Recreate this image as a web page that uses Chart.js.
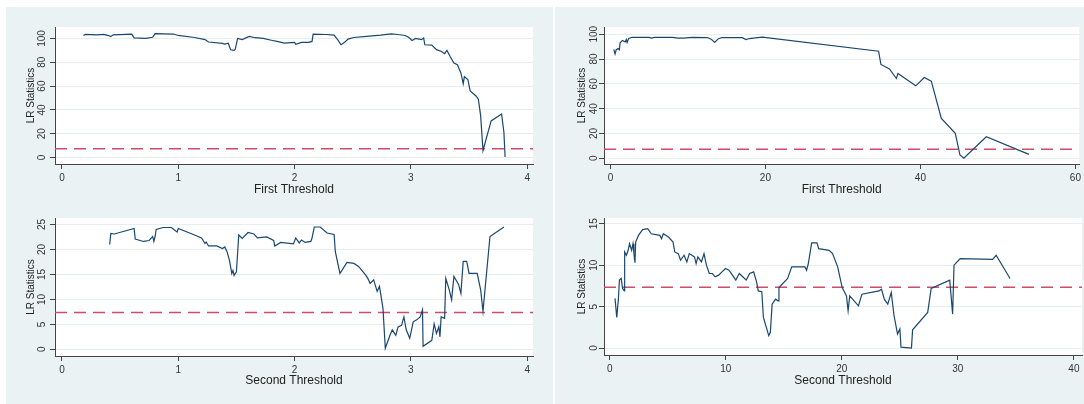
<!DOCTYPE html>
<html>
<head>
<meta charset="utf-8">
<script src="https://cdn.jsdelivr.net/npm/chart.js@4.4.1/dist/chart.umd.min.js"></script>
<style>
html, body { margin: 0; padding: 0; background: #fff; }
#wrap { position: relative; width: 1084px; height: 404px; overflow: hidden; }
.bg { position: absolute; left: 6px; top: 7px; width: 1078px; height: 397px; background: #eaf2f3; }
.sep { position: absolute; left: 553px; top: 7px; width: 2px; height: 397px; background: #fff; }
canvas { position: absolute; }
</style>
</head>
<body>
<div id="wrap">
  <div class="bg"></div>
  <div class="sep"></div>
  <canvas id="tl" width="553" height="202" style="left:0;top:0"></canvas>
  <canvas id="tr" width="531" height="202" style="left:553px;top:0"></canvas>
  <canvas id="bl" width="553" height="202" style="left:0;top:202px"></canvas>
  <canvas id="br" width="531" height="202" style="left:553px;top:202px"></canvas>
</div>
<script>
// LR statistic at the 5% level (dashed line)
var critValue = 7.35;

// first threshold, left panel
var firstAX = [0.185,0.20,0.30,0.36,0.40,0.42,0.44,0.60,0.62,0.72,0.78,0.80,0.96,1.00,1.14,1.23,1.26,1.38,1.40,1.43,1.45,1.48,1.49,1.51,1.55,1.61,1.66,1.73,1.80,1.85,1.91,2.00,2.01,2.06,2.12,2.15,2.16,2.27,2.34,2.37,2.40,2.43,2.46,2.51,2.62,2.74,2.83,2.89,2.95,2.98,3.01,3.04,3.09,3.11,3.12,3.18,3.22,3.26,3.29,3.31,3.34,3.37,3.40,3.43,3.45,3.46,3.49,3.51,3.56,3.58,3.60,3.62,3.69,3.78,3.80,3.81];
var firstALR = [102.5,103.4,103.0,103.4,102.4,101.5,103.0,103.6,100.5,100.0,101.0,104.0,103.7,102.5,100.8,99.0,97.0,95.8,95.3,96.0,90.5,90.0,91.0,100.0,99.0,101.7,100.6,100.0,98.5,97.5,96.0,96.7,95.0,96.7,96.7,97.5,103.6,103.3,102.8,99.0,94.7,96.7,99.4,100.8,101.7,102.8,103.9,103.3,102.5,101.0,98.3,100.0,99.0,100.3,94.7,94.4,90.6,89.2,87.2,90.0,84.4,79.4,78.0,71.0,62.0,68.0,65.5,56.0,51.7,49.0,35.0,5.8,30.8,36.6,21.0,0.5];

// first threshold, right panel
var firstBX = [0.44,0.6,0.75,1.0,1.15,1.25,1.55,1.9,2.05,2.15,2.35,2.8,5.0,5.3,5.7,8.0,8.7,9.5,10.5,12.5,13.0,13.45,13.9,14.35,17.0,17.5,17.9,19.6,34.6,34.9,36.0,36.9,37.1,39.4,40.5,41.4,42.7,44.5,45.1,45.6,48.5,54.0];
var firstBLR = [87.7,84.0,87.5,88.5,87.5,93.0,95.0,93.8,95.7,93.3,96.5,97.5,97.4,96.8,97.4,97.4,96.8,96.9,97.4,97.3,96.0,93.3,96.2,97.3,97.2,95.7,96.5,97.6,86.3,75.6,72.0,64.3,68.4,58.4,65.1,62.2,32.2,20.1,2.7,0.0,17.4,3.2];

// second threshold, left panel
var secondAX = [0.41,0.42,0.45,0.62,0.63,0.70,0.75,0.78,0.79,0.80,0.81,0.87,0.94,0.99,1.00,1.14,1.20,1.23,1.24,1.26,1.33,1.38,1.40,1.42,1.44,1.46,1.47,1.48,1.50,1.52,1.55,1.60,1.65,1.68,1.76,1.82,1.83,1.88,1.99,2.01,2.04,2.06,2.09,2.14,2.15,2.17,2.22,2.28,2.34,2.35,2.39,2.41,2.45,2.51,2.55,2.61,2.63,2.65,2.68,2.71,2.73,2.76,2.78,2.82,2.84,2.87,2.89,2.92,2.94,2.96,2.99,3.02,3.05,3.08,3.10,3.105,3.18,3.20,3.22,3.24,3.25,3.26,3.29,3.30,3.33,3.35,3.37,3.41,3.43,3.45,3.48,3.50,3.57,3.60,3.62,3.68,3.80];
var secondALR = [21.0,23.2,23.1,24.2,22.1,21.6,21.8,22.6,21.6,22.5,24.0,24.4,24.4,23.5,24.2,22.9,22.3,21.2,21.5,20.7,20.7,20.2,20.5,19.5,17.8,15.2,15.8,14.8,15.5,22.9,22.2,23.4,23.1,22.3,22.5,21.8,20.7,21.4,21.1,22.3,21.3,21.9,21.4,21.6,22.3,24.5,24.5,23.3,23.0,19.6,15.2,15.9,17.4,17.2,16.6,14.9,14.2,13.2,13.9,11.6,12.6,8.2,0.2,2.8,3.9,2.8,4.5,4.8,6.5,3.9,2.2,5.5,5.9,6.5,7.9,0.6,1.8,5.1,3.2,4.5,2.5,6.5,6.2,14.2,11.9,9.9,14.6,13.0,11.2,17.6,17.6,15.2,15.2,11.9,7.6,22.6,24.5];

// second threshold, right panel
var secondBX = [0.45,0.6,0.74,0.83,0.98,1.1,1.25,1.28,1.43,1.58,1.7,1.88,2.0,2.08,2.17,2.23,2.47,2.83,3.27,3.57,4.32,4.46,4.61,5.06,5.45,5.6,5.9,6.1,6.4,6.64,6.85,7.3,7.44,7.59,7.9,8.12,8.33,8.48,8.57,8.84,9.08,9.38,9.67,9.97,10.27,10.57,10.86,11.16,11.46,11.76,12.05,12.4,12.65,12.8,13.1,13.24,13.7,13.84,13.99,14.29,14.5,14.58,15.33,15.68,16.82,16.96,17.11,17.4,17.86,18.0,18.9,19.2,19.64,20.03,20.4,20.54,20.68,21.43,21.73,23.2,23.42,23.66,23.96,24.26,24.5,24.8,25.0,25.1,26.0,26.1,27.4,27.7,29.3,29.55,29.67,30.2,33.0,33.3,34.5];
var secondBLR = [6.0,3.7,5.9,8.2,8.4,7.2,6.9,11.6,11.2,11.8,12.6,11.8,12.6,11.4,10.3,12.8,13.6,14.3,14.4,13.8,13.6,13.2,13.8,13.4,12.8,11.6,11.4,10.6,11.2,10.4,11.4,11.0,10.2,11.0,10.4,11.4,10.0,9.4,9.0,9.0,8.6,8.8,9.2,9.6,9.4,8.8,8.2,9.0,8.6,8.2,9.0,9.2,8.0,6.9,6.8,3.7,1.5,1.9,5.3,5.9,5.7,7.3,8.4,9.8,9.8,9.4,10.2,12.7,12.7,12.0,11.8,11.4,9.8,7.3,6.3,4.5,6.3,5.1,6.5,6.9,7.1,5.9,5.3,6.7,3.9,1.7,2.3,0.1,0.0,2.2,4.3,7.2,8.2,4.1,10.0,10.8,10.7,11.2,8.4];

// tick labels
var ticksX4 = [0, 1, 2, 3, 4];
var ticksX60 = [0, 20, 40, 60];
var ticksX40 = [0, 10, 20, 30, 40];
var ticksY100 = [0, 20, 40, 60, 80, 100];
var ticksY25 = [0, 5, 10, 15, 20, 25];
var ticksY15 = [0, 5, 10, 15];

var FONT = "'Liberation Sans', Arial, sans-serif";

var plotBg = {
  id: 'plotBg',
  beforeDraw: function(chart) {
    var a = chart.chartArea, ctx = chart.ctx;
    ctx.save();
    ctx.fillStyle = '#ffffff';
    ctx.fillRect(a.left, a.top, a.right - a.left, a.bottom - a.top);
    ctx.restore();
  }
};

// Stata-style y labels: rotated, reading bottom to top
var yLabels = {
  id: 'yLabels',
  afterDraw: function(chart, args, opts) {
    var s = chart.scales.y, ctx = chart.ctx;
    ctx.save();
    ctx.fillStyle = '#333';
    ctx.font = '10px ' + FONT;
    ctx.textAlign = 'center';
    ctx.textBaseline = 'middle';
    s.ticks.forEach(function(t) {
      var py = s.getPixelForValue(t.value);
      ctx.save();
      ctx.translate(s.right - opts.offset, py);
      ctx.rotate(-Math.PI / 2);
      ctx.fillText(t.label, 0, 0);
      ctx.restore();
    });
    ctx.restore();
  }
};

function toPoints(xs, ys) {
  return xs.map(function(x, i) { return {x: x, y: ys[i]}; });
}

function drawPanel(id, xs, ys, o) {
  new Chart(document.getElementById(id), {
    type: 'line',
    data: {
      datasets: [{
        data: toPoints(xs, ys),
        borderColor: '#1a476f',
        borderWidth: 1.2,
        pointRadius: 0,
        tension: 0
      }, {
        data: [{x: o.xMin, y: critValue}, {x: o.xMax, y: critValue}],
        borderColor: '#cc4d66',
        borderWidth: 1.5,
        borderDash: [12, 7],
        pointRadius: 0
      }]
    },
    options: {
      responsive: false,
      animation: false,
      layout: { padding: { left: 0, top: o.top, right: o.right, bottom: 0 } },
      plugins: { legend: { display: false }, tooltip: { enabled: false }, yLabels: { offset: o.yLabelOffset } },
      scales: {
        x: {
          type: 'linear',
          min: o.xMin,
          max: o.xMax,
          afterBuildTicks: function(s) { s.ticks = o.xTicks.map(function(v) { return {value: v}; }); },
          afterFit: function(s) { s.height = o.xHeight; },
          grid: { drawOnChartArea: false, tickLength: 5, tickColor: '#444', color: '#444' },
          border: { color: '#444', width: 1 },
          ticks: { color: '#333', font: { family: FONT, size: 10 }, padding: 3, maxRotation: 0 },
          title: { display: true, text: o.xTitle, color: '#222', font: { family: FONT, size: 12 }, padding: { top: 0, bottom: o.xTitlePad } }
        },
        y: {
          type: 'linear',
          min: o.yMin,
          max: o.yMax,
          afterBuildTicks: function(s) { s.ticks = o.yTicks.map(function(v) { return {value: v}; }); },
          afterFit: function(s) { s.width = o.yWidth; },
          grid: { color: '#e8eef0', tickLength: 5, tickColor: '#444' },
          border: { color: '#444', width: 1 },
          ticks: { display: false },
          title: { display: true, text: 'LR Statistics', color: '#222', font: { family: FONT, size: 10 }, padding: { top: o.yTitlePad, bottom: 0 } }
        }
      }
    },
    plugins: [plotBg, yLabels]
  });
}

drawPanel('tl', firstAX, firstALR, {
  xMin: -0.06, xMax: 4.05, yMin: -5.4, yMax: 109.6, xTicks: ticksX4, yTicks: ticksY100,
  top: 27, right: 20, xHeight: 38, yWidth: 55, xTitle: 'First Threshold', xTitlePad: 5, yLabelOffset: 13, yTitlePad: 25.5
});
drawPanel('tr', firstBX, firstBLR, {
  xMin: -0.83, xMax: 60.5, yMin: -4.6, yMax: 105.8, xTicks: ticksX60, yTicks: ticksY100,
  top: 27, right: 2, xHeight: 38, yWidth: 51, xTitle: 'First Threshold', xTitlePad: 5, yLabelOffset: 10, yTitlePad: 23
});
drawPanel('bl', secondAX, secondALR, {
  xMin: -0.06, xMax: 4.05, yMin: -1.34, yMax: 26.3, xTicks: ticksX4, yTicks: ticksY25,
  top: 16, right: 20, xHeight: 48, yWidth: 55, xTitle: 'Second Threshold', xTitlePad: 16, yLabelOffset: 13, yTitlePad: 25.5
});
drawPanel('br', secondBX, secondBLR, {
  xMin: -0.5, xMax: 40.7, yMin: -0.84, yMax: 15.7, xTicks: ticksX40, yTicks: ticksY15,
  top: 16, right: 2, xHeight: 49, yWidth: 51, xTitle: 'Second Threshold', xTitlePad: 16, yLabelOffset: 10, yTitlePad: 23
});
</script>
</body>
</html>
